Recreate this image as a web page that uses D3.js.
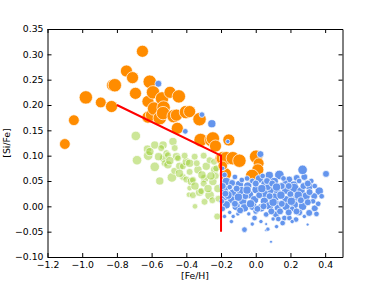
<!DOCTYPE html>
<html>
<head>
<meta charset="utf-8">
<script src="https://cdn.jsdelivr.net/npm/d3@7"></script>
<style>
  body { margin: 0; background: #fff; }
  text { font-family: "DejaVu Sans", sans-serif; }
</style>
</head>
<body>
<div id="chart"></div>
<script>
// [Fe/H], [Si/Fe], size value
const orangeStars = [
  [-1.100, 0.123, 7], [-1.048, 0.170, 7], [-0.979, 0.215, 9], [-0.893, 0.205, 7],
  [-0.831, 0.197, 8], [-0.825, 0.239, 8], [-0.812, 0.239, 9], [-0.745, 0.267, 8],
  [-0.710, 0.254, 8], [-0.693, 0.223, 8], [-0.653, 0.306, 8], [-0.621, 0.207, 8],
  [-0.611, 0.246, 9], [-0.621, 0.176, 8], [-0.601, 0.180, 8], [-0.592, 0.225, 9],
  [-0.586, 0.193, 9], [-0.553, 0.174, 9], [-0.544, 0.212, 8], [-0.540, 0.213, 9],
  [-0.531, 0.195, 9], [-0.534, 0.184, 9], [-0.494, 0.225, 8], [-0.473, 0.178, 9],
  [-0.457, 0.180, 8], [-0.452, 0.154, 8], [-0.443, 0.217, 9], [-0.402, 0.186, 9],
  [-0.381, 0.187, 8], [-0.324, 0.172, 9], [-0.318, 0.131, 9], [-0.256, 0.131, 9],
  [-0.247, 0.134, 9], [-0.232, 0.119, 8], [-0.155, 0.131, 8], [-0.200, 0.095, 8],
  [-0.190, 0.095, 9], [-0.170, 0.095, 9], [-0.132, 0.095, 9], [-0.094, 0.090, 9],
  [0.002, 0.098, 9], [0.017, 0.085, 7], [0.012, 0.072, 8], [-0.021, 0.060, 9],
  [-0.174, 0.064, 8], [-0.190, 0.080, 6]
];

const greenStars = [
  [-0.691, 0.139, 6], [-0.684, 0.091, 6], [-0.624, 0.113, 5], [-0.620, 0.100, 6],
  [-0.610, 0.108, 5], [-0.582, 0.121, 5], [-0.582, 0.078, 6], [-0.553, 0.050, 5],
  [-0.534, 0.121, 5], [-0.530, 0.095, 5], [-0.525, 0.085, 4], [-0.515, 0.105, 4],
  [-0.506, 0.082, 5], [-0.506, 0.101, 4], [-0.483, 0.057, 6], [-0.477, 0.128, 5],
  [-0.467, 0.115, 4], [-0.457, 0.098, 5], [-0.448, 0.095, 4], [-0.438, 0.079, 5],
  [-0.420, 0.079, 4], [-0.420, 0.058, 4], [-0.400, 0.088, 5], [-0.400, 0.053, 4],
  [-0.385, 0.023, 3], [-0.381, 0.085, 5], [-0.381, 0.068, 4], [-0.381, 0.036, 3],
  [-0.371, 0.049, 5], [-0.362, 0.052, 4], [-0.362, 0.022, 4], [-0.352, 0.098, 4],
  [-0.333, 0.072, 5], [-0.324, 0.028, 5], [-0.314, 0.030, 4], [-0.295, 0.009, 4],
  [-0.294, 0.055, 5], [-0.285, 0.079, 5], [-0.266, 0.091, 4], [-0.266, 0.022, 6],
  [-0.247, 0.049, 5], [-0.237, 0.072, 5], [-0.228, 0.075, 4], [-0.222, -0.020, 4],
  [-0.218, 0.035, 5], [-0.230, 0.060, 4], [-0.258, 0.060, 5],
  [-0.560, 0.098, 5], [-0.545, 0.115, 4], [-0.495, 0.090, 5], [-0.470, 0.070, 4],
  [-0.440, 0.065, 5], [-0.410, 0.100, 4], [-0.350, 0.040, 5], [-0.340, 0.085, 4],
  [-0.310, 0.062, 5], [-0.300, 0.045, 4], [-0.275, 0.035, 5], [-0.250, 0.012, 4],
  [-0.240, 0.088, 4], [-0.215, 0.015, 4], [-0.350, 0.000, 3], [-0.300, 0.100, 4]
];

const blueStars = [
  [-0.561, 0.242, 4], [-0.406, 0.148, 3], [-0.310, 0.181, 3], [-0.253, 0.163, 5],
  [-0.161, 0.128, 2], [0.027, 0.103, 4],
  [-0.180, 0.062, 3], [-0.190, 0.075, 2], [-0.170, 0.049, 5], [-0.136, 0.046, 4],
  [-0.094, 0.043, 5], [-0.046, 0.040, 5], [0.021, 0.054, 5], [0.078, 0.061, 5],
  [0.136, 0.062, 6], [0.107, 0.049, 5], [0.193, 0.053, 4], [0.236, 0.056, 4],
  [0.280, 0.058, 4], [0.270, 0.072, 6], [0.405, 0.064, 4], [0.308, 0.040, 5],
  [0.366, 0.030, 5], [0.337, 0.020, 4], [-0.120, 0.058, 3], [0.050, 0.045, 4],
  [0.170, 0.047, 3], [0.220, 0.042, 5], [0.250, 0.050, 3], [-0.020, 0.050, 3],
  [-0.179, 0.033, 5], [-0.132, 0.026, 5], [-0.084, 0.030, 6], [-0.036, 0.023, 5],
  [0.002, 0.033, 5], [0.050, 0.026, 6], [0.088, 0.033, 5], [0.126, 0.026, 5],
  [0.175, 0.033, 6], [0.222, 0.036, 6], [0.261, 0.030, 5], [0.290, 0.020, 5],
  [0.232, 0.017, 4], [0.175, 0.013, 5], [0.107, 0.017, 6], [0.050, 0.010, 5],
  [-0.007, 0.013, 5], [-0.075, 0.010, 5], [-0.141, 0.013, 5], [-0.180, 0.017, 4],
  [-0.190, 0.040, 4], [-0.110, 0.035, 4], [-0.060, 0.020, 4], [0.020, 0.022, 4],
  [0.070, 0.038, 4], [0.150, 0.040, 4], [0.200, 0.024, 4], [0.310, 0.028, 4],
  [0.340, 0.040, 3], [-0.150, 0.038, 3], [0.120, 0.005, 4],
  [-0.170, 0.003, 5], [-0.113, 0.000, 5], [-0.065, -0.003, 5], [-0.017, 0.000, 5],
  [0.031, -0.003, 5], [0.079, 0.001, 5], [0.126, -0.003, 4], [0.175, 0.000, 5],
  [0.222, 0.003, 5], [0.270, 0.000, 5], [0.308, -0.013, 4], [0.340, -0.004, 4],
  [0.117, -0.016, 4], [0.060, -0.016, 3], [-0.007, -0.023, 3], [0.155, -0.033, 3],
  [0.165, -0.023, 3], [0.194, -0.023, 3], [0.232, -0.026, 3], [-0.103, -0.015, 2],
  [-0.065, -0.046, 3], [0.060, -0.035, 1], [0.060, -0.047, 1], [0.088, -0.070, 1],
  [0.299, -0.036, 1], [-0.190, -0.005, 3], [-0.150, -0.012, 2], [-0.130, -0.020, 2],
  [0.000, -0.010, 3], [0.090, -0.010, 4], [0.140, -0.010, 4], [0.250, -0.012, 4],
  [0.330, 0.010, 3], [0.360, 0.005, 3], [0.030, -0.030, 2], [0.100, -0.025, 2],
  [0.120, -0.040, 2], [-0.040, -0.015, 2], [0.210, -0.005, 3], [0.280, -0.020, 2],
  [-0.160, 0.022, 5], [-0.100, 0.018, 5], [-0.050, 0.032, 5], [0.000, 0.045, 4],
  [0.035, 0.035, 5], [0.065, 0.050, 4], [0.095, 0.045, 4], [0.120, 0.038, 5],
  [0.145, 0.022, 5], [0.190, 0.040, 4], [0.205, 0.010, 5], [0.245, 0.022, 5],
  [0.275, 0.040, 4], [0.300, 0.008, 4], [0.320, 0.050, 3], [0.350, -0.015, 3],
  [-0.120, 0.005, 4], [-0.090, -0.008, 4], [-0.030, 0.005, 5], [0.010, -0.005, 4],
  [0.045, 0.000, 4], [0.100, 0.008, 5], [0.150, 0.005, 4], [0.190, -0.012, 4],
  [0.235, -0.010, 4], [0.260, 0.012, 4], [-0.175, 0.025, 4], [-0.195, 0.010, 3],
  [-0.050, 0.055, 3], [0.080, 0.020, 4], [0.160, 0.055, 3], [0.300, 0.045, 4],
  [0.380, 0.020, 3], [-0.020, -0.035, 2], [0.130, -0.025, 3], [0.210, -0.030, 2],
  [0.070, -0.045, 2], [-0.140, -0.030, 2], [-0.180, -0.020, 2], [0.040, 0.060, 3],
  [-0.080, 0.052, 3]
];

// dividing line
const dividerLine = [[-0.8, 0.20], [-0.2, 0.10], [-0.2, -0.05]];

const xTicks = [-1.2, -1.0, -0.8, -0.6, -0.4, -0.2, 0.0, 0.2, 0.4];
const yTicks = [-0.10, -0.05, 0.00, 0.05, 0.10, 0.15, 0.20, 0.25, 0.30, 0.35];

const width = 381;
const height = 286;
const margin = { top: 29, right: 38.5, bottom: 29, left: 47.5 };

const svg = d3
  .select("#chart")
  .append("svg")
  .attr("width", width)
  .attr("height", height);

const x = d3
  .scaleLinear()
  .domain([-1.2, 0.5])
  .range([margin.left, width - margin.right]);
const y = d3
  .scaleLinear()
  .domain([-0.1, 0.35])
  .range([height - margin.bottom, margin.top]);
const r = d3.scaleLinear().domain([1, 9]).range([1.5, 6.7]);

const plot = svg.append("g");

function drawStars(data, fill, opacity) {
  plot
    .append("g")
    .selectAll("circle")
    .data(data)
    .join("circle")
    .attr("cx", (d) => x(d[0]))
    .attr("cy", (d) => y(d[1]))
    .attr("r", (d) => r(d[2]))
    .attr("fill", fill)
    .attr("fill-opacity", opacity)
    .attr("stroke", "#fff")
    .attr("stroke-width", 0.7);
}

drawStars(greenStars, "#9acd32", 0.5);
drawStars(orangeStars, "#ff8c00", 1);
drawStars(blueStars, "#6495ed", 1);

plot
  .append("path")
  .datum(dividerLine)
  .attr("d", d3.line().x((d) => x(d[0])).y((d) => y(d[1])))
  .attr("fill", "none")
  .attr("stroke", "#ff0000")
  .attr("stroke-width", 2);

// axes with inward ticks on all sides
const fmtX = d3.format(".1f");
const fmtY = d3.format(".2f");

const bottomAxis = svg
  .append("g")
  .attr("transform", `translate(0,${height - margin.bottom})`)
  .call(d3.axisBottom(x).tickValues(xTicks).tickFormat(fmtX).tickSizeInner(-4).tickSizeOuter(0).tickPadding(4));
const topAxis = svg
  .append("g")
  .attr("transform", `translate(0,${margin.top})`)
  .call(d3.axisTop(x).tickValues(xTicks).tickFormat("").tickSizeInner(-4).tickSizeOuter(0));
const leftAxis = svg
  .append("g")
  .attr("transform", `translate(${margin.left},0)`)
  .call(d3.axisLeft(y).tickValues(yTicks).tickFormat(fmtY).tickSizeInner(-4).tickSizeOuter(0).tickPadding(4));
const rightAxis = svg
  .append("g")
  .attr("transform", `translate(${width - margin.right},0)`)
  .call(d3.axisRight(y).tickValues(yTicks).tickFormat("").tickSizeInner(-4).tickSizeOuter(0));

[bottomAxis, topAxis, leftAxis, rightAxis].forEach((g) => {
  g.selectAll("text").style("font-size", "9.3px").attr("fill", "#000");
  g.selectAll("line").attr("stroke", "#000");
  g.select(".domain").attr("stroke", "#000");
});

svg
  .append("text")
  .attr("x", (margin.left + width - margin.right) / 2)
  .attr("y", 279)
  .attr("text-anchor", "middle")
  .style("font-size", "9.3px")
  .text("[Fe/H]");

svg
  .append("text")
  .attr("transform", `translate(10,${(margin.top + height - margin.bottom) / 2}) rotate(-90)`)
  .attr("text-anchor", "middle")
  .style("font-size", "9.3px")
  .text("[Si/Fe]");
</script>
</body>
</html>
